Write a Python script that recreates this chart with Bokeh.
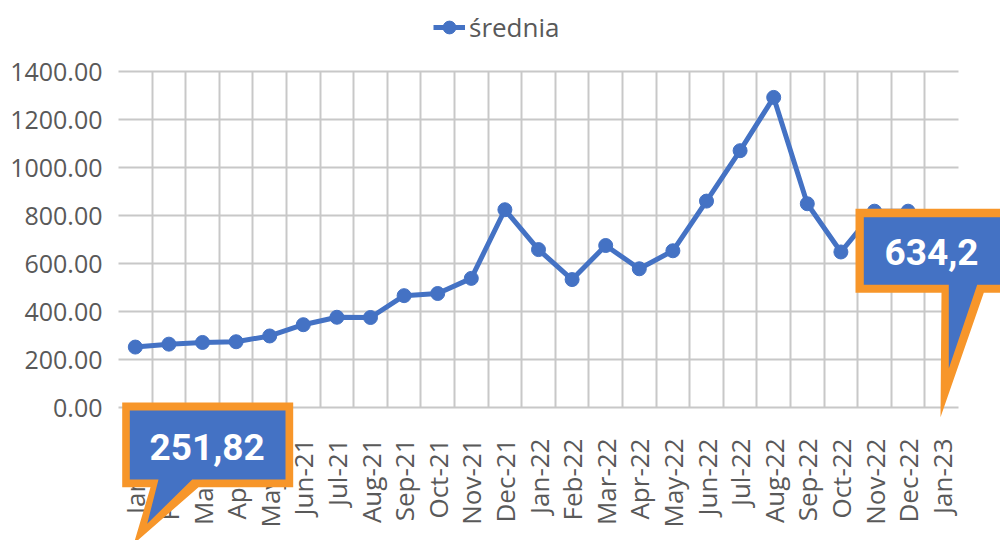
import math
from bokeh.plotting import figure
from bokeh.models import (Range1d, FixedTicker, NumeralTickFormatter, Legend, LegendItem,
                          PolyAnnotation, Label, Grid)
from bokeh.embed import file_html
from bokeh.resources import INLINE

# ---- data ----
months = ["Jan-21", "Feb-21", "Mar-21", "Apr-21", "May-21", "Jun-21", "Jul-21", "Aug-21",
          "Sep-21", "Oct-21", "Nov-21", "Dec-21", "Jan-22", "Feb-22", "Mar-22", "Apr-22",
          "May-22", "Jun-22", "Jul-22", "Aug-22", "Sep-22", "Oct-22", "Nov-22", "Dec-22",
          "Jan-23"]
values = [251.82, 264, 271, 274, 298, 345, 376, 375, 466, 475, 538, 824, 658, 533, 675,
          578, 653, 860, 1070, 1292, 849, 648, 818, 818, 634.2]
y_ticks = [0, 200, 400, 600, 800, 1000, 1200, 1400]
series_name = "średnia"

BLUE = "#4472C4"
ORANGE = "#F7962A"
GRID = "#C8C8C8"
TXT = "#595959"

# ---- layout (pixels) ----
W, H = 1000, 540
PX0, PX1 = 118, 958     # plot area left / right
PY_TOP, PY_BOT = 71, 407  # plot area top / bottom

n = len(months)
x_lo, x_hi = -0.5, n - 0.5
y_lo, y_hi = y_ticks[0], y_ticks[-1]
ux = (x_hi - x_lo) / (PX1 - PX0)
uy = (y_hi - y_lo) / (PY_BOT - PY_TOP)
x_range = Range1d(x_lo - PX0 * ux, x_hi + (W - PX1) * ux)
y_range = Range1d(y_lo - (H - PY_BOT) * uy, y_hi + PY_TOP * uy)

xs = list(range(n))

p = figure(width=W, height=H, output_backend="svg", toolbar_location=None,
           x_range=x_range, y_range=y_range,
           min_border_left=0, min_border_right=0, min_border_top=0, min_border_bottom=0)
p.outline_line_color = None
p.background_fill_color = "white"
p.border_fill_color = "white"

# axes
p.xaxis.fixed_location = y_lo
p.xaxis.bounds = (x_lo, x_hi)
p.xaxis.ticker = FixedTicker(ticks=xs)
p.xaxis.major_label_overrides = {i: m for i, m in enumerate(months)}
p.xaxis.major_label_orientation = math.pi / 2
p.xaxis.major_label_text_font = "Open Sans"
p.xaxis.major_label_text_font_size = "26px"
p.xaxis.major_label_text_color = TXT
p.xaxis.major_tick_out = 0
p.xaxis.major_tick_in = 0
p.xaxis.minor_tick_out = 0
p.xaxis.minor_tick_in = 0
p.xaxis.axis_line_color = GRID
p.xaxis.axis_line_width = 2
p.xaxis.major_label_standoff = 31

p.yaxis.fixed_location = x_lo
p.yaxis.bounds = (y_lo, y_hi)
p.yaxis.ticker = FixedTicker(ticks=y_ticks)
p.yaxis.formatter = NumeralTickFormatter(format="0.00")
p.yaxis.major_label_text_font = "Open Sans"
p.yaxis.major_label_text_font_size = "25px"
p.yaxis.major_label_text_color = TXT
p.yaxis.major_tick_out = 0
p.yaxis.major_tick_in = 0
p.yaxis.minor_tick_out = 0
p.yaxis.minor_tick_in = 0
p.yaxis.axis_line_color = None
p.yaxis.major_label_standoff = 16

# grids
vgrid_ticks = [i + 0.5 for i in range(n - 1)]
if "cross_bounds" in Grid.properties():
    p.xgrid.ticker = FixedTicker(ticks=vgrid_ticks)
    p.xgrid.cross_bounds = (y_lo, y_hi)
    p.xgrid.grid_line_color = GRID
    p.xgrid.grid_line_width = 2
    p.ygrid.ticker = FixedTicker(ticks=y_ticks[1:])
    p.ygrid.cross_bounds = (x_lo, x_hi)
    p.ygrid.grid_line_color = GRID
    p.ygrid.grid_line_width = 2
else:
    p.xgrid.visible = False
    p.ygrid.visible = False
    p.segment(x0=vgrid_ticks, x1=vgrid_ticks, y0=[y_lo] * len(vgrid_ticks),
              y1=[y_hi] * len(vgrid_ticks), line_color=GRID, line_width=2)
    p.segment(x0=[x_lo] * (len(y_ticks) - 1), x1=[x_hi] * (len(y_ticks) - 1),
              y0=y_ticks[1:], y1=y_ticks[1:], line_color=GRID, line_width=2)

# series
ln = p.line(xs, values, line_color=BLUE, line_width=5)
sc = p.scatter(xs, values, size=14, fill_color=BLUE, line_color=BLUE)

legend = Legend(items=[LegendItem(label=series_name, renderers=[ln, sc])],
                location=(433, H - 45), orientation="horizontal",
                padding=0, margin=0, border_line_color=None, background_fill_alpha=0,
                glyph_width=32, glyph_height=36, label_standoff=4,
                label_text_font="Open Sans", label_text_font_size="26px",
                label_text_color=TXT)
p.add_layout(legend, "center")

# ---- callouts (screen units, frame = whole canvas) ----
def fr(pts):
    return [cx for cx, cy in pts], [H - cy for cx, cy in pts]

def callout(outer, inner, text_pos, text):
    ox, oy = fr(outer)
    ix, iy = fr(inner)
    p.add_layout(PolyAnnotation(xs=ox, ys=oy, xs_units="screen", ys_units="screen",
                                fill_color=ORANGE, fill_alpha=1, line_color=None, level="overlay"))
    p.add_layout(PolyAnnotation(xs=ix, ys=iy, xs_units="screen", ys_units="screen",
                                fill_color=BLUE, fill_alpha=1, line_color=None, level="overlay"))
    tx, ty = fr([text_pos])
    p.add_layout(Label(x=tx[0], y=ty[0], x_units="screen", y_units="screen", text=text,
                       text_align="center", text_baseline="middle", text_color="white",
                       text_font="Roboto", text_font_style="bold", text_font_size="37px",
                       level="overlay"))

def fmt(v):
    return ("%g" % v).replace(".", ",")

callout(outer=[(121.7, 402), (292.7, 402), (292.7, 486.7), (198, 486.7), (133.3, 543.3),
               (150, 486.7), (121.7, 486.7)],
        inner=[(129.3, 410), (285, 410), (285, 479), (191.7, 479), (146.7, 523.3),
               (158, 479), (129.3, 479)],
        text_pos=(206.7, 446), text=fmt(values[0]))
callout(outer=[(855, 208.3), (1012, 208.3), (1012, 292.3), (983.3, 292.3), (940, 416.7),
               (941, 292.3), (855, 292.3)],
        inner=[(863.3, 216.7), (1001, 216.7), (1001, 284.3), (976.7, 284.3), (948.3, 368),
               (948.3, 284.3), (863.3, 284.3)],
        text_pos=(931, 251.5), text=fmt(values[-1]))

open("out.html", "w").write(file_html(p, INLINE))
